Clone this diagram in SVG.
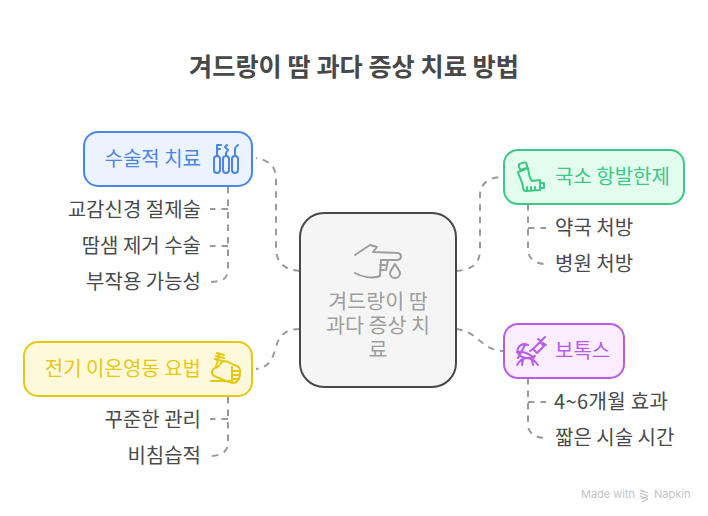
<svg xmlns="http://www.w3.org/2000/svg" width="708" height="516" viewBox="0 0 708 516">
<style>
text{font-family:"Noto Sans CJK KR","Noto Sans",sans-serif}
.t{font-size:20px;fill:#4a4a4a}
.n{font-size:20px}
.m{font-size:20.6px;fill:#9e9e9e}
.c{fill:none;stroke:#9a9a9a;stroke-width:2;stroke-dasharray:6.5 6;stroke-linecap:butt}
.i{fill:none;stroke-width:2;stroke-linecap:round;stroke-linejoin:round}
.box{stroke-width:2}
</style>
<rect width="708" height="516" fill="#fff"/>
<text x="354" y="76" text-anchor="middle" font-size="25.2" font-weight="700" fill="#484848">겨드랑이 땀 과다 증상 치료 방법</text>
<g id="connectors">
<path class="c" d="M300 271C284 270 276 262 276 248V178C276 166 268 160 256 158"/>
<path class="c" d="M228 187V270C228 278 222 282 210 282"/>
<path class="c" d="M228 209H210"/>
<path class="c" d="M228 246H210"/>
<path class="c" d="M300 329C286 329 279 335 276 347C272 362 268 367 256 369"/>
<path class="c" d="M228 397V443C228 452 220 456 210 456"/>
<path class="c" d="M228 419H210"/>
<path class="c" d="M456 271C472 270 480 263 480 250V195C480 183 490 177 502 177"/>
<path class="c" d="M528 204V250C528 258 535 264 546 264"/>
<path class="c" d="M528 228H546"/>
<path class="c" d="M456 329C478 331 482 351 503 351"/>
<path class="c" d="M528 378V425C528 433 535 438 546 438"/>
<path class="c" d="M528 402H546"/>
</g>
<g id="node-center">
<rect class="box" x="300" y="213" width="156" height="174" rx="24" fill="#f5f5f5" stroke="#484848"/>
<g class="i" stroke="#9e9e9e">
<path d="M355 255L370 245L377 247L373 252L398 253C402 254 402 259 398 260L381 260"/>
<path d="M388 260L386 270M381 260L380 276M380 265H385M380 270H384M355 273C362 277 372 279 380 276"/>
<path d="M395 264C392 269 390 271 390 273A5 5 0 0 0 400 273C400 271 398 269 395 264Z"/>
</g>
<text x="378" y="309" text-anchor="middle" class="m">겨드랑이 땀</text>
<text x="378" y="333" text-anchor="middle" class="m">과다 증상 치</text>
<text x="378" y="357" text-anchor="middle" class="m">료</text>
</g>
<g id="node-surgery">
<rect class="box" x="84" y="132" width="168" height="54" rx="14" fill="#edf3fe" stroke="#4a86e4"/>
<text x="201" y="166" text-anchor="end" class="n" fill="#4a86e4">수술적 치료</text>
<g class="i" stroke="#4a86e4" stroke-width="1.6">
<rect x="214" y="156" width="6" height="17" rx="3"/><rect x="223" y="156" width="6" height="17" rx="3"/><rect x="232" y="156" width="6" height="17" rx="3"/>
<path d="M217 156V145H221M217 149H220M226 156V153L228 150L225 147L227 145M235 156V149C235 147 237 146 238 145"/>
</g>
</g>
<text class="t" x="201" y="217" text-anchor="end" id="t1">교감신경 절제술</text>
<text class="t" x="201" y="253" text-anchor="end" id="t2">땀샘 제거 수술</text>
<text class="t" x="201" y="289" text-anchor="end" id="t3">부작용 가능성</text>
<g id="node-ion">
<rect class="box" x="24" y="342" width="228" height="54" rx="14" fill="#fef9db" stroke="#e6c812"/>
<text x="201" y="376" text-anchor="end" class="n" fill="#e6c812">전기 이온영동 요법</text>
<g class="i" stroke="#e6c812" stroke-width="1.7">
<path d="M211 381H232M216 367L219 354M215 359L223 361M216 356L224 358M217 353L224 355M222 362C226 359 231 364 234 365C239 366 240 368 240 372C240 378 239 382 234 383C226 382 220 378 214 376C210 373 212 368 218 367Z"/>
<path d="M232 367V382M232 371H240M232 375H240M232 379H239"/>
</g>
</g>
<text class="t" x="201" y="427" text-anchor="end" id="t4">꾸준한 관리</text>
<text class="t" x="201" y="463" text-anchor="end" id="t5">비침습적</text>
<g id="node-spray">
<rect class="box" x="504" y="150" width="180" height="54" rx="14" fill="#e3fcee" stroke="#3cc886"/>
<text x="555" y="184" class="n" fill="#3cc886">국소 항발한제</text>
<g class="i" stroke="#3cc886">
<rect x="519" y="163" width="8" height="6" rx="2" transform="rotate(-15 523 166)"/>
<path d="M518 172L528 168C529 174 529 178 532 181L540 180V190L526 191C524 191 523 190 523 187C522 180 519 177 518 172ZM540 183H544V188H540M527 187V190M531 187V190M535 187V190"/>
</g>
</g>
<text class="t" x="555" y="235" id="t6">약국 처방</text>
<text class="t" x="555" y="271" id="t7">병원 처방</text>
<g id="node-botox">
<rect class="box" x="504" y="324" width="120" height="54" rx="14" fill="#f9edfe" stroke="#b95ae8"/>
<text x="555" y="358" class="n" fill="#b95ae8">보톡스</text>
<g class="i" stroke="#b95ae8" stroke-width="1.7">
<path d="M533 349L540 342L544 346L537 353ZM541 341L545 337M543 343L546 345M538 339L541 341M533 349L530 351"/>
<path d="M528 345C521 342 516 348 518 353C521 359 529 359 535 356M525 345L518 358M517 352C522 351 529 353 534 358"/>
<path d="M517 365C520 360 524 358 527 358C531 358 535 361 538 365M523 359L522 365M532 360L533 365"/>
</g>
</g>
<text class="t" x="554" y="409" id="t8" textLength="114">4~6개월 효과</text>
<text class="t" x="555" y="445" id="t9">짧은 시술 시간</text>
<text x="581" y="498" font-size="11" fill="#c4c4c4" style="font-family:'Inter','Noto Sans',sans-serif">Made with</text>
<path d="M640 490L648 493M640 493L648 496M640 496L648 499M648 493L641 491M648 496L641 499M648 499L642 502" fill="none" stroke="#c4c4c4" stroke-width="1.2"/>
<text x="654" y="498" font-size="11" fill="#c4c4c4" style="font-family:'Inter','Noto Sans',sans-serif">Napkin</text>
</svg>
